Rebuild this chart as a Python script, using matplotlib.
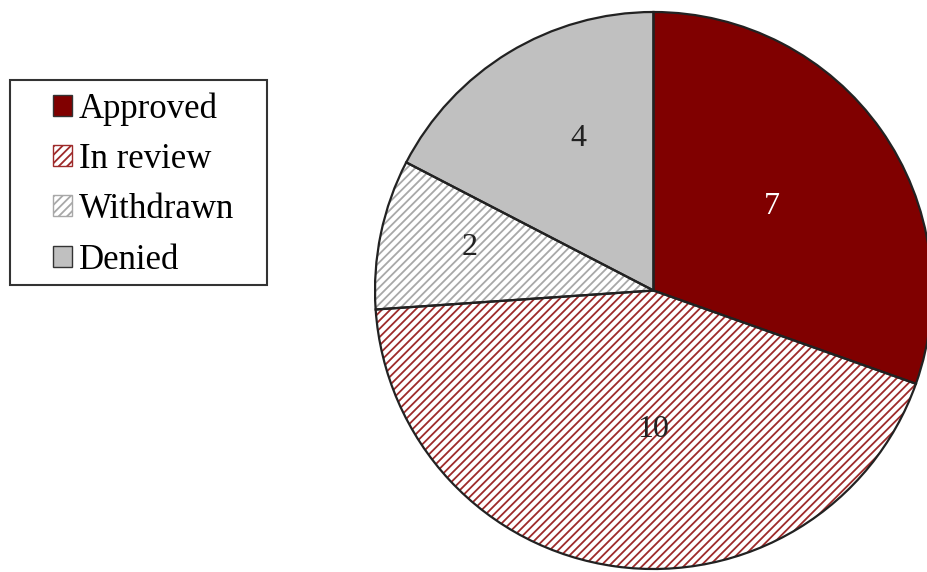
import matplotlib
matplotlib.use("Agg")
import matplotlib.pyplot as plt
from matplotlib.patches import Patch, Rectangle
import numpy as np

# data
labels = ["Approved", "In review", "Withdrawn", "Denied"]
counts = [7, 10, 2, 4]

# looks
face = ["#800000", "white", "white", "#c0c0c0"]
hatch_col = ["#800000", "#9e2a2a", "#a8a8a8", "#c0c0c0"]
hatches = [None, "////", "////", None]
txt_col = ["white", "#222222", "#222222", "#222222"]
lab_r = [0.52, 0.50, 0.68, 0.61]
lab_shift = [0, 7.8, -1.5, -5]  # degrees, nudges label off the mid-angle

plt.rcParams["font.family"] = ["Liberation Serif", "DejaVu Serif"]
plt.rcParams["hatch.linewidth"] = 1.3

W, H = 928, 572
fig = plt.figure(figsize=(W / 100, H / 100), dpi=100)
ax = fig.add_axes([0, 0, 1, 1])

# hatch/fill layer
wedges, _ = ax.pie(counts, startangle=90, counterclock=False, radius=1,
                   colors=face, wedgeprops=dict(linewidth=0))
for w, hc, h in zip(wedges, hatch_col, hatches):
    w.set_edgecolor(hc)
    if h:
        w.set_hatch(h)

# outline layer
ax.pie(counts, startangle=90, counterclock=False, radius=1,
       wedgeprops=dict(facecolor="none", edgecolor="#222222", linewidth=1.6))

# pie centre and radius in pixels
cx, cy, R = 653.5, 290.5, 278.5
ax.set_xlim(-cx / R, (W - cx) / R)
ax.set_ylim(-(H - cy) / R, cy / R)
ax.set_aspect("equal")
ax.axis("off")

# value labels
for w, c, tc, r, s in zip(wedges, counts, txt_col, lab_r, lab_shift):
    ang = np.deg2rad((w.theta1 + w.theta2) / 2 + s)
    ax.text(r * np.cos(ang), r * np.sin(ang), str(c), ha="center", va="center",
            fontsize=23, color=tc)

handles = [Patch(facecolor=f, edgecolor="#333333" if h is None else hc, hatch=h, linewidth=1)
           for f, hc, h in zip(face, hatch_col, hatches)]
leg = fig.legend(handles, labels, loc="upper left",
                 bbox_to_anchor=(53 / W, 1 - 92 / H), borderaxespad=0,
                 frameon=False, fontsize=25, handlelength=0.55, handleheight=0.55,
                 handletextpad=0.2, labelspacing=0.5, borderpad=0)

# legend box
fig.add_artist(Rectangle((10 / W, 1 - 285 / H), 257 / W, 205 / H,
                         transform=fig.transFigure, facecolor="none",
                         edgecolor="#333333", linewidth=1.5))

fig.savefig("out.png", dpi=100)
